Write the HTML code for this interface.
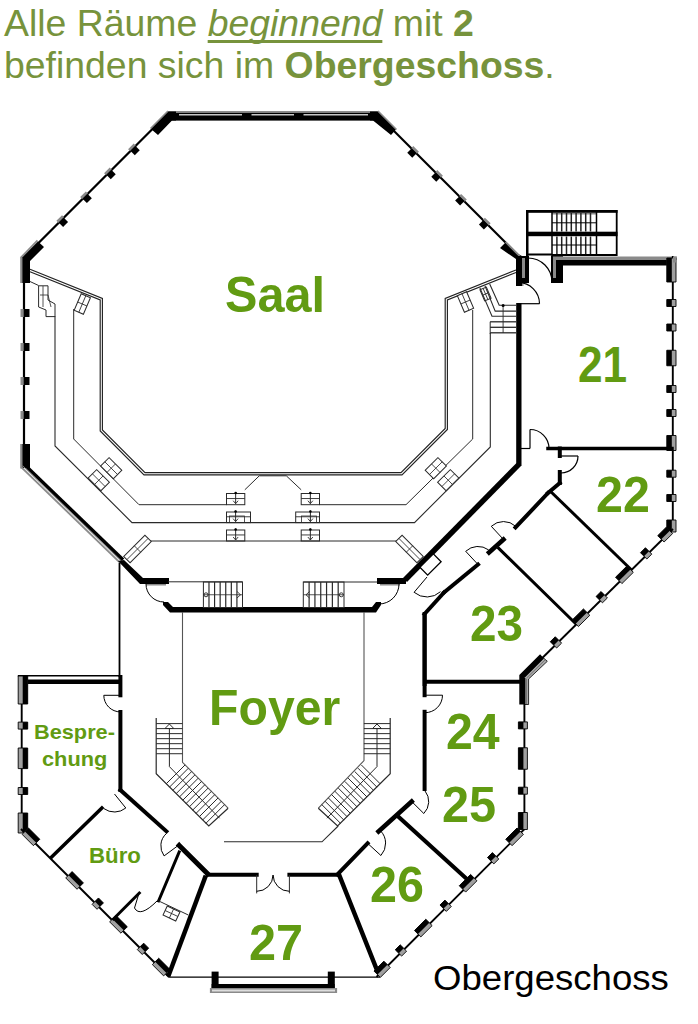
<!DOCTYPE html>
<html><head><meta charset="utf-8">
<style>
html,body{margin:0;padding:0;background:#fff;}
body{width:698px;height:1024px;overflow:hidden;position:relative;font-family:"Liberation Sans",sans-serif;}
.hd{position:absolute;left:4px;color:#77933c;font-size:37.4px;white-space:nowrap;line-height:40px;}
.lb{position:absolute;color:#619b12;font-weight:bold;white-space:nowrap;line-height:1;font-size:50px;transform-origin:0 0;}
.sm{position:absolute;color:#619b12;font-weight:bold;white-space:nowrap;line-height:1;font-size:21px;transform-origin:0 0;}
svg{position:absolute;left:0;top:0;}
</style></head><body>
<svg width="698" height="1024" viewBox="0 0 698 1024">
<rect x="168" y="111" width="210" height="1.8" fill="#8a8a8a" stroke="none" stroke-width="0" />
<rect x="170" y="112.8" width="206" height="7.8" fill="#000" stroke="none" stroke-width="0" />
<rect x="179" y="114" width="63" height="1.5" fill="#c8c8c8" stroke="none" stroke-width="0" />
<rect x="251.5" y="114" width="42.5" height="1.5" fill="#c8c8c8" stroke="none" stroke-width="0" />
<rect x="303.5" y="114" width="64.5" height="1.5" fill="#c8c8c8" stroke="none" stroke-width="0" />
<line x1="168.5" y1="113" x2="22.5" y2="259" stroke="#000" stroke-width="2.2" />
<polygon points="133.73,143.53 128.07,149.19 130.19,151.31 135.85,145.65" fill="#8a8a8a" stroke="none" stroke-width="0"/>
<polygon points="135.28,145.79 130.33,150.74 134.79,155.2 139.74,150.25" fill="#000" stroke="none" stroke-width="0"/>
<polygon points="109.71,167.55 104.06,173.2 106.18,175.32 111.83,169.67" fill="#8a8a8a" stroke="none" stroke-width="0"/>
<polygon points="111.27,169.81 106.32,174.76 110.77,179.21 115.72,174.26" fill="#000" stroke="none" stroke-width="0"/>
<polygon points="85.84,191.42 80.18,197.07 82.31,199.19 87.96,193.54" fill="#8a8a8a" stroke="none" stroke-width="0"/>
<polygon points="87.4,193.68 82.45,198.63 86.9,203.08 91.85,198.13" fill="#000" stroke="none" stroke-width="0"/>
<polygon points="62.04,215.21 56.39,220.87 58.51,222.99 64.16,217.34" fill="#8a8a8a" stroke="none" stroke-width="0"/>
<polygon points="63.6,217.48 58.65,222.43 63.1,226.88 68.05,221.93" fill="#000" stroke="none" stroke-width="0"/>
<polygon points="151,129 168,111.5 176,111.5 176,120.5 172,120.5 158,135" fill="#000" stroke="none" stroke-width="0"/>
<line x1="150.5" y1="128.5" x2="168" y2="111" stroke="#8a8a8a" stroke-width="1.6" />
<polygon points="21.5,258 38,241.5 44,247 30,261 30,283 22,283" fill="#000" stroke="none" stroke-width="0"/>
<line x1="20.5" y1="258" x2="37.5" y2="240.5" stroke="#8a8a8a" stroke-width="1.8" />
<rect x="20.2" y="258" width="2.3" height="25" fill="#8a8a8a" stroke="none" stroke-width="0" />
<line x1="24" y1="258" x2="24" y2="468" stroke="#000" stroke-width="2.2" />
<polygon points="20.5,309.0 20.5,317.0 24.0,317.0 24.0,309.0" fill="#8a8a8a" stroke="none" stroke-width="0"/>
<polygon points="23.7,309.0 23.7,317.0 29.5,317.0 29.5,309.0" fill="#000" stroke="none" stroke-width="0"/>
<polygon points="20.5,343.0 20.5,351.0 24.0,351.0 24.0,343.0" fill="#8a8a8a" stroke="none" stroke-width="0"/>
<polygon points="23.7,343.0 23.7,351.0 29.5,351.0 29.5,343.0" fill="#000" stroke="none" stroke-width="0"/>
<polygon points="20.5,377.0 20.5,385.0 24.0,385.0 24.0,377.0" fill="#8a8a8a" stroke="none" stroke-width="0"/>
<polygon points="23.7,377.0 23.7,385.0 29.5,385.0 29.5,377.0" fill="#000" stroke="none" stroke-width="0"/>
<polygon points="20.5,411.0 20.5,419.0 24.0,419.0 24.0,411.0" fill="#8a8a8a" stroke="none" stroke-width="0"/>
<polygon points="23.7,411.0 23.7,419.0 29.5,419.0 29.5,411.0" fill="#000" stroke="none" stroke-width="0"/>
<rect x="22" y="444" width="8" height="24" fill="#000" stroke="none" stroke-width="0" />
<rect x="20.2" y="444" width="2.3" height="24.5" fill="#8a8a8a" stroke="none" stroke-width="0" />
<polygon points="20.5,467.8 119.5,563.5 120.82,562.13 21.82,466.43" fill="#8c8c8c" stroke="none" stroke-width="0"/>
<polygon points="22.31,465.93 121.31,561.63 121.86,561.06 22.86,465.36" fill="#8c8c8c" stroke="none" stroke-width="0"/>
<polygon points="22.86,465.36 121.86,561.06 124.23,558.61 25.23,462.91" fill="#000" stroke="none" stroke-width="0"/>
<polygon points="118,561 124,560 143,578 169,578 169,584 140,584" fill="#000" stroke="none" stroke-width="0"/>
<rect x="146" y="584" width="20" height="1.5" fill="#8a8a8a" stroke="none" stroke-width="0" />
<line x1="376" y1="113" x2="523" y2="260" stroke="#000" stroke-width="2.2" />
<polygon points="413.29,146.05 418.95,151.71 416.83,153.83 411.17,148.17" fill="#8a8a8a" stroke="none" stroke-width="0"/>
<polygon points="411.74,148.31 416.69,153.26 412.23,157.72 407.28,152.77" fill="#000" stroke="none" stroke-width="0"/>
<polygon points="437.3,170.05 442.95,175.71 440.83,177.83 435.18,172.18" fill="#8a8a8a" stroke="none" stroke-width="0"/>
<polygon points="435.74,172.32 440.69,177.27 436.24,181.72 431.29,176.77" fill="#000" stroke="none" stroke-width="0"/>
<polygon points="461.14,193.9 466.8,199.56 464.68,201.68 459.02,196.02" fill="#8a8a8a" stroke="none" stroke-width="0"/>
<polygon points="459.59,196.16 464.54,201.11 460.08,205.57 455.13,200.62" fill="#000" stroke="none" stroke-width="0"/>
<polygon points="484.95,217.71 490.61,223.37 488.49,225.49 482.83,219.83" fill="#8a8a8a" stroke="none" stroke-width="0"/>
<polygon points="483.4,219.97 488.35,224.92 483.89,229.38 478.94,224.43" fill="#000" stroke="none" stroke-width="0"/>
<polygon points="378,111.5 396,129.5 391,135 373,120.5 370,120.5 370,111.5" fill="#000" stroke="none" stroke-width="0"/>
<line x1="378" y1="111" x2="396.5" y2="129.5" stroke="#8a8a8a" stroke-width="1.6" />
<polygon points="505.5,242.5 516,253 524,257 524,283 516,283 516,259 500,248" fill="#000" stroke="none" stroke-width="0"/>
<line x1="505.5" y1="242" x2="524" y2="260.5" stroke="#8a8a8a" stroke-width="1.6" />
<rect x="516" y="258" width="6" height="28" fill="#000" stroke="none" stroke-width="0" />
<rect x="522" y="256" width="1.5" height="30" fill="#8a8a8a" stroke="none" stroke-width="0" />
<rect x="516.2" y="303" width="5.3" height="163" fill="#000" stroke="none" stroke-width="0" />
<polygon points="516.5,463 521,466 407,582 403,578" fill="#000" stroke="none" stroke-width="0"/>
<rect x="377" y="578" width="29" height="6" fill="#000" stroke="none" stroke-width="0" />
<rect x="380" y="584" width="20" height="1.5" fill="#8a8a8a" stroke="none" stroke-width="0" />
<polyline points="30,269.3 102.4,298.5 102.4,430 145,472.6 401,472.6 445.2,428.5 445.2,298.5 516,270" fill="none" stroke="#222" stroke-width="1.15" />
<polyline points="30,271.8 100.2,300 100.2,431 144,474.8 402,474.8 447.4,429.5 447.4,300 516,272.5" fill="none" stroke="#222" stroke-width="1.15" />
<polyline points="73.7,309 73.7,439 139,504.7 226.5,504.7" fill="none" stroke="#2a2a2a" stroke-width="1" />
<polyline points="244.8,489.8 259.3,475.8 286.3,475.8 301.2,489.8" fill="none" stroke="#2a2a2a" stroke-width="1" />
<polyline points="319.5,504.7 406,504.7 472.7,439 472.7,310" fill="none" stroke="#2a2a2a" stroke-width="1" />
<polyline points="55,316 55,446 132,522.6 414.5,522.6 490.3,447 490.3,333" fill="none" stroke="#2a2a2a" stroke-width="1.1" />
<line x1="150" y1="541" x2="397" y2="541" stroke="#2a2a2a" stroke-width="1" />
<rect x="226.5" y="493.5" width="18.30000000000001" height="11.199999999999989" fill="none" stroke="#2a2a2a" stroke-width="1" />
<line x1="235.65" y1="492.0" x2="235.65" y2="503.7" stroke="#2a2a2a" stroke-width="1" />
<circle cx="235.65" cy="493.0" r="1.3" fill="#000"/>
<polyline points="233.15,500.7 235.65,503.7 238.15,500.7" fill="none" stroke="#2a2a2a" stroke-width="0.9" />
<line x1="226.5" y1="498.54" x2="244.8" y2="498.54" stroke="#2a2a2a" stroke-width="0.9" />
<rect x="226.5" y="530" width="18.30000000000001" height="11" fill="none" stroke="#2a2a2a" stroke-width="1" />
<line x1="235.65" y1="528.5" x2="235.65" y2="540" stroke="#2a2a2a" stroke-width="1" />
<circle cx="235.65" cy="529.5" r="1.3" fill="#000"/>
<polyline points="233.15,537 235.65,540 238.15,537" fill="none" stroke="#2a2a2a" stroke-width="0.9" />
<line x1="226.5" y1="534.95" x2="244.8" y2="534.95" stroke="#2a2a2a" stroke-width="0.9" />
<rect x="301.2" y="493.5" width="18.30000000000001" height="11.199999999999989" fill="none" stroke="#2a2a2a" stroke-width="1" />
<line x1="310.35" y1="492.0" x2="310.35" y2="503.7" stroke="#2a2a2a" stroke-width="1" />
<circle cx="310.35" cy="493.0" r="1.3" fill="#000"/>
<polyline points="307.85,500.7 310.35,503.7 312.85,500.7" fill="none" stroke="#2a2a2a" stroke-width="0.9" />
<line x1="301.2" y1="498.54" x2="319.5" y2="498.54" stroke="#2a2a2a" stroke-width="0.9" />
<rect x="301.2" y="530" width="18.30000000000001" height="11" fill="none" stroke="#2a2a2a" stroke-width="1" />
<line x1="310.35" y1="528.5" x2="310.35" y2="540" stroke="#2a2a2a" stroke-width="1" />
<circle cx="310.35" cy="529.5" r="1.3" fill="#000"/>
<polyline points="307.85,537 310.35,540 312.85,537" fill="none" stroke="#2a2a2a" stroke-width="0.9" />
<line x1="301.2" y1="534.95" x2="319.5" y2="534.95" stroke="#2a2a2a" stroke-width="0.9" />
<rect x="226.5" y="512" width="24.0" height="10.600000000000023" fill="none" stroke="#2a2a2a" stroke-width="1" />
<line x1="235.6" y1="510.5" x2="235.6" y2="521.6" stroke="#2a2a2a" stroke-width="1" />
<circle cx="235.6" cy="511.5" r="1.3" fill="#000"/>
<polyline points="233.1,518.6 235.6,521.6 238.1,518.6" fill="none" stroke="#2a2a2a" stroke-width="0.9" />
<line x1="226.5" y1="516.77" x2="250.5" y2="516.77" stroke="#2a2a2a" stroke-width="0.9" />
<rect x="229.5" y="516" width="15" height="6.6" fill="none" stroke="#2a2a2a" stroke-width="0.8" />
<rect x="295.7" y="512" width="23.80000000000001" height="10.600000000000023" fill="none" stroke="#2a2a2a" stroke-width="1" />
<line x1="310.4" y1="510.5" x2="310.4" y2="521.6" stroke="#2a2a2a" stroke-width="1" />
<circle cx="310.4" cy="511.5" r="1.3" fill="#000"/>
<polyline points="307.9,518.6 310.4,521.6 312.9,518.6" fill="none" stroke="#2a2a2a" stroke-width="0.9" />
<line x1="295.7" y1="516.77" x2="319.5" y2="516.77" stroke="#2a2a2a" stroke-width="0.9" />
<rect x="301.5" y="516" width="15" height="6.6" fill="none" stroke="#2a2a2a" stroke-width="0.8" />
<g transform="rotate(-45 435.8 468.2)"><rect x="426.8" y="462.2" width="18" height="12" fill="#fff" stroke="#2a2a2a" stroke-width="1"/><line x1="426.8" y1="468.2" x2="444.8" y2="468.2" stroke="#2a2a2a" stroke-width="0.8"/><line x1="435.8" y1="462.2" x2="435.8" y2="474.2" stroke="#2a2a2a" stroke-width="0.8"/></g>
<g transform="rotate(-45 448.2 480.2)"><rect x="439.2" y="474.2" width="18" height="12" fill="#fff" stroke="#2a2a2a" stroke-width="1"/><line x1="439.2" y1="480.2" x2="457.2" y2="480.2" stroke="#2a2a2a" stroke-width="0.8"/><line x1="448.2" y1="474.2" x2="448.2" y2="486.2" stroke="#2a2a2a" stroke-width="0.8"/></g>
<g transform="rotate(45 111.2 468.2)"><rect x="102.2" y="462.2" width="18" height="12" fill="#fff" stroke="#2a2a2a" stroke-width="1"/><line x1="102.2" y1="468.2" x2="120.2" y2="468.2" stroke="#2a2a2a" stroke-width="0.8"/><line x1="111.2" y1="462.2" x2="111.2" y2="474.2" stroke="#2a2a2a" stroke-width="0.8"/></g>
<g transform="rotate(45 98.8 480.2)"><rect x="89.8" y="474.2" width="18" height="12" fill="#fff" stroke="#2a2a2a" stroke-width="1"/><line x1="89.8" y1="480.2" x2="107.8" y2="480.2" stroke="#2a2a2a" stroke-width="0.8"/><line x1="98.8" y1="474.2" x2="98.8" y2="486.2" stroke="#2a2a2a" stroke-width="0.8"/></g>
<g transform="rotate(45 409.5 549)"><rect x="394.5" y="544.5" width="30" height="9" fill="#fff" stroke="#2a2a2a" stroke-width="1"/><line x1="394.5" y1="549" x2="424.5" y2="549" stroke="#2a2a2a" stroke-width="0.8"/><line x1="409.5" y1="544.5" x2="409.5" y2="553.5" stroke="#2a2a2a" stroke-width="0.8"/></g>
<g transform="rotate(-45 137.5 549)"><rect x="122.5" y="544.5" width="30" height="9" fill="#fff" stroke="#2a2a2a" stroke-width="1"/><line x1="122.5" y1="549" x2="152.5" y2="549" stroke="#2a2a2a" stroke-width="0.8"/><line x1="137.5" y1="544.5" x2="137.5" y2="553.5" stroke="#2a2a2a" stroke-width="0.8"/></g>
<polyline points="38.6,285.8 48,285.8 48,300 55,304 55,316.6 46,316.6 46,310 38.6,307 38.6,285.8" fill="none" stroke="#2a2a2a" stroke-width="1" />
<line x1="43" y1="286" x2="43" y2="307" stroke="#2a2a2a" stroke-width="0.8" />
<polyline points="40,295 48,295 51,307" fill="none" stroke="#2a2a2a" stroke-width="0.8" />
<line x1="30" y1="281.5" x2="38.6" y2="285.5" stroke="#2a2a2a" stroke-width="1" />
<g transform="rotate(23 82.3 304)"><rect x="77.3" y="295.0" width="10" height="18" fill="#fff" stroke="#2a2a2a" stroke-width="1"/><line x1="77.3" y1="304" x2="87.3" y2="304" stroke="#2a2a2a" stroke-width="0.8"/><line x1="82.3" y1="295.0" x2="82.3" y2="313.0" stroke="#2a2a2a" stroke-width="0.8"/></g>
<g transform="rotate(-23 465.5 302)"><rect x="460.5" y="293.0" width="10" height="18" fill="#fff" stroke="#2a2a2a" stroke-width="1"/><line x1="460.5" y1="302" x2="470.5" y2="302" stroke="#2a2a2a" stroke-width="0.8"/><line x1="465.5" y1="293.0" x2="465.5" y2="311.0" stroke="#2a2a2a" stroke-width="0.8"/></g>
<g transform="rotate(-23 485.5 294)"><rect x="482.0" y="288.0" width="7" height="12" fill="#fff" stroke="#2a2a2a" stroke-width="1"/><line x1="482.0" y1="294" x2="489.0" y2="294" stroke="#2a2a2a" stroke-width="0.8"/><line x1="485.5" y1="288.0" x2="485.5" y2="300.0" stroke="#2a2a2a" stroke-width="0.8"/></g>
<polyline points="479.9,287.9 492,316.2 516,316.2" fill="none" stroke="#2a2a2a" stroke-width="1.1" />
<polyline points="485,285.9 495.2,311.1 516,311.1" fill="none" stroke="#2a2a2a" stroke-width="1.1" />
<polyline points="489.7,284 499.2,305.2 516,305.2" fill="none" stroke="#2a2a2a" stroke-width="1.1" />
<line x1="490.1" y1="321.8" x2="516" y2="321.8" stroke="#2a2a2a" stroke-width="1.3" />
<line x1="490.1" y1="327.3" x2="516" y2="327.3" stroke="#2a2a2a" stroke-width="1.3" />
<line x1="490.1" y1="332.8" x2="516" y2="332.8" stroke="#2a2a2a" stroke-width="1.3" />
<line x1="503.1" y1="305" x2="503.1" y2="333" stroke="#2a2a2a" stroke-width="0.9" />
<circle cx="503.1" cy="305.5" r="1.5" fill="#000"/>
<line x1="490.2" y1="321.8" x2="490.2" y2="334" stroke="#2a2a2a" stroke-width="1" />
<rect x="526" y="210" width="91.5" height="2.8" fill="#000" stroke="none" stroke-width="0" />
<rect x="552" y="213" width="44" height="1.5" fill="#8a8a8a" stroke="none" stroke-width="0" />
<rect x="526" y="231.7" width="91.5" height="4.5" fill="#000" stroke="none" stroke-width="0" />
<rect x="526" y="253.5" width="26" height="2" fill="#000" stroke="none" stroke-width="0" />
<rect x="526" y="210" width="2.5" height="46" fill="#000" stroke="none" stroke-width="0" />
<rect x="615.8" y="210" width="1.8" height="46" fill="#000" stroke="none" stroke-width="0" />
<line x1="552" y1="212" x2="552" y2="256" stroke="#000" stroke-width="1.5" />
<line x1="596.5" y1="212" x2="596.5" y2="256" stroke="#000" stroke-width="1.5" />
<line x1="556.9" y1="213" x2="556.9" y2="231.5" stroke="#222" stroke-width="1.5" />
<line x1="561.6999999999999" y1="213" x2="561.6999999999999" y2="231.5" stroke="#222" stroke-width="1.5" />
<line x1="566.5" y1="213" x2="566.5" y2="231.5" stroke="#222" stroke-width="1.5" />
<line x1="571.3" y1="213" x2="571.3" y2="231.5" stroke="#222" stroke-width="1.5" />
<line x1="576.1" y1="213" x2="576.1" y2="231.5" stroke="#222" stroke-width="1.5" />
<line x1="580.9" y1="213" x2="580.9" y2="231.5" stroke="#222" stroke-width="1.5" />
<line x1="585.6999999999999" y1="213" x2="585.6999999999999" y2="231.5" stroke="#222" stroke-width="1.5" />
<line x1="590.5" y1="213" x2="590.5" y2="231.5" stroke="#222" stroke-width="1.5" />
<line x1="556.9" y1="236.5" x2="556.9" y2="255" stroke="#222" stroke-width="1.5" />
<line x1="561.6999999999999" y1="236.5" x2="561.6999999999999" y2="255" stroke="#222" stroke-width="1.5" />
<line x1="566.5" y1="236.5" x2="566.5" y2="255" stroke="#222" stroke-width="1.5" />
<line x1="571.3" y1="236.5" x2="571.3" y2="255" stroke="#222" stroke-width="1.5" />
<line x1="576.1" y1="236.5" x2="576.1" y2="255" stroke="#222" stroke-width="1.5" />
<line x1="580.9" y1="236.5" x2="580.9" y2="255" stroke="#222" stroke-width="1.5" />
<line x1="585.6999999999999" y1="236.5" x2="585.6999999999999" y2="255" stroke="#222" stroke-width="1.5" />
<line x1="590.5" y1="236.5" x2="590.5" y2="255" stroke="#222" stroke-width="1.5" />
<line x1="552" y1="222.8" x2="596.5" y2="222.8" stroke="#000" stroke-width="1" />
<line x1="552" y1="245" x2="596.5" y2="245" stroke="#000" stroke-width="1" />
<rect x="552" y="254" width="65" height="2" fill="#000" stroke="none" stroke-width="0" />
<rect x="516" y="256" width="13" height="27" fill="#000" stroke="none" stroke-width="0" />
<rect x="522" y="258" width="3" height="20" fill="#8a8a8a" stroke="none" stroke-width="0" />
<rect x="551" y="256" width="12" height="27" fill="#000" stroke="none" stroke-width="0" />
<rect x="553" y="258" width="3" height="20" fill="#8a8a8a" stroke="none" stroke-width="0" />
<rect x="553" y="256.5" width="124" height="3.5" fill="#8a8a8a" stroke="none" stroke-width="0" />
<rect x="556" y="260" width="117" height="5.5" fill="#000" stroke="none" stroke-width="0" />
<path d="M528.0,258.0 A24,24 0 0 1 552.0,282.0" fill="none" stroke="#000" stroke-width="1.2"/>
<line x1="518.5" y1="303.7" x2="539.5" y2="303.7" stroke="#000" stroke-width="1.2" />
<path d="M539.5,303.7 A21,21 0 0 0 518.5,282.7" fill="none" stroke="#000" stroke-width="1.2"/>
<line x1="672.8" y1="256" x2="672.8" y2="529" stroke="#000" stroke-width="1.9" />
<polygon points="676.0,299.5 676.0,306.5 666.8,306.5 666.8,299.5" fill="#a0a0a0" stroke="#000" stroke-width="0.9"/>
<polygon points="671.8,299.5 671.8,306.5 666.8,306.5 666.8,299.5" fill="#000" stroke="none" stroke-width="0"/>
<polygon points="676.0,324.0 676.0,331.0 666.8,331.0 666.8,324.0" fill="#a0a0a0" stroke="#000" stroke-width="0.9"/>
<polygon points="671.8,324.0 671.8,331.0 666.8,331.0 666.8,324.0" fill="#000" stroke="none" stroke-width="0"/>
<polygon points="676.0,385.5 676.0,392.5 666.8,392.5 666.8,385.5" fill="#a0a0a0" stroke="#000" stroke-width="0.9"/>
<polygon points="671.8,385.5 671.8,392.5 666.8,392.5 666.8,385.5" fill="#000" stroke="none" stroke-width="0"/>
<polygon points="676.0,409.5 676.0,416.5 666.8,416.5 666.8,409.5" fill="#a0a0a0" stroke="#000" stroke-width="0.9"/>
<polygon points="671.8,409.5 671.8,416.5 666.8,416.5 666.8,409.5" fill="#000" stroke="none" stroke-width="0"/>
<polygon points="676.0,470.2 676.0,477.2 666.8,477.2 666.8,470.2" fill="#a0a0a0" stroke="#000" stroke-width="0.9"/>
<polygon points="671.8,470.2 671.8,477.2 666.8,477.2 666.8,470.2" fill="#000" stroke="none" stroke-width="0"/>
<polygon points="676.0,494.5 676.0,501.5 666.8,501.5 666.8,494.5" fill="#a0a0a0" stroke="#000" stroke-width="0.9"/>
<polygon points="671.8,494.5 671.8,501.5 666.8,501.5 666.8,494.5" fill="#000" stroke="none" stroke-width="0"/>
<polygon points="676.0,350.25 676.0,365.75 666.8,365.75 666.8,350.25" fill="#a0a0a0" stroke="#000" stroke-width="0.9"/>
<polygon points="671.8,350.25 671.8,365.75 666.8,365.75 666.8,350.25" fill="#000" stroke="none" stroke-width="0"/>
<polygon points="676.0,435.5 676.0,450.5 666.8,450.5 666.8,435.5" fill="#a0a0a0" stroke="#000" stroke-width="0.9"/>
<polygon points="671.8,435.5 671.8,450.5 666.8,450.5 666.8,435.5" fill="#000" stroke="none" stroke-width="0"/>
<polygon points="676.0,258.0 676.0,282.0 666.8,282.0 666.8,258.0" fill="#a0a0a0" stroke="#000" stroke-width="0.9"/>
<polygon points="671.8,258.0 671.8,282.0 666.8,282.0 666.8,258.0" fill="#000" stroke="none" stroke-width="0"/>
<polygon points="676.0,520.0 676.0,532.0 666.8,532.0 666.8,520.0" fill="#a0a0a0" stroke="#000" stroke-width="0.9"/>
<polygon points="671.8,520.0 671.8,532.0 666.8,532.0 666.8,520.0" fill="#000" stroke="none" stroke-width="0"/>
<rect x="673" y="256.5" width="3.5" height="6" fill="#8a8a8a" stroke="none" stroke-width="0" />
<line x1="548" y1="448.5" x2="672" y2="448.5" stroke="#000" stroke-width="3.5" stroke-linecap="square"/>
<line x1="520" y1="448.5" x2="530" y2="448.5" stroke="#000" stroke-width="1.2" />
<line x1="530" y1="448.5" x2="530.0" y2="429.5" stroke="#000" stroke-width="1.2" />
<path d="M530.0,429.5 A19,19 0 0 1 549.0,448.5" fill="none" stroke="#000" stroke-width="1.2"/>
<line x1="559.8" y1="448.5" x2="559.8" y2="456" stroke="#000" stroke-width="4" stroke-linecap="square"/>
<line x1="559.8" y1="472" x2="559.8" y2="483" stroke="#000" stroke-width="4" stroke-linecap="square"/>
<line x1="561" y1="456" x2="578.0" y2="456.0" stroke="#000" stroke-width="1.2" />
<path d="M578.0,456.0 A17,17 0 0 1 561.0,473.0" fill="none" stroke="#000" stroke-width="1.2"/>
<line x1="559.8" y1="483" x2="548" y2="493" stroke="#000" stroke-width="4" stroke-linecap="square"/>
<line x1="548" y1="493" x2="515.5" y2="527.5" stroke="#000" stroke-width="4" stroke-linecap="square"/>
<line x1="503.5" y1="539.5" x2="489" y2="552.5" stroke="#000" stroke-width="4.5" stroke-linecap="square"/>
<line x1="478" y1="564.5" x2="444" y2="592.5" stroke="#000" stroke-width="4" stroke-linecap="square"/>
<line x1="444" y1="592.5" x2="424.5" y2="614" stroke="#000" stroke-width="4" stroke-linecap="square"/>
<line x1="424.6" y1="614" x2="424.6" y2="684" stroke="#000" stroke-width="4" stroke-linecap="square"/>
<line x1="425" y1="681.8" x2="522" y2="681.8" stroke="#000" stroke-width="4" stroke-linecap="square"/>
<line x1="503.5" y1="539.5" x2="491.3" y2="526.3" stroke="#000" stroke-width="1" />
<path d="M491.3,526.3 A18,18 0 0 1 515.7,526.3" fill="none" stroke="#000" stroke-width="1"/>
<line x1="478" y1="564.5" x2="465.7" y2="551.3" stroke="#000" stroke-width="1" />
<path d="M465.7,551.3 A18,18 0 0 1 488.6,549.9" fill="none" stroke="#000" stroke-width="1"/>
<line x1="427" y1="577" x2="414.1" y2="592.3" stroke="#000" stroke-width="1" />
<path d="M414.1,592.3 A20,20 0 0 0 440.5,591.7" fill="none" stroke="#000" stroke-width="1"/>
<line x1="551.7" y1="492.5" x2="631" y2="569.5" stroke="#000" stroke-width="3" stroke-linecap="square"/>
<line x1="498.8" y1="548.4" x2="575.5" y2="623.5" stroke="#000" stroke-width="3" stroke-linecap="square"/>
<line x1="673" y1="529" x2="523" y2="677" stroke="#000" stroke-width="1.9" />
<polygon points="651.81,554.12 646.83,559.04 640.47,552.67 645.45,547.76" fill="#a0a0a0" stroke="#000" stroke-width="0.9"/>
<polygon points="648.98,551.29 644.0,556.21 640.47,552.67 645.45,547.76" fill="#000" stroke="none" stroke-width="0"/>
<polygon points="607.41,597.93 602.43,602.84 596.07,596.48 601.05,591.56" fill="#a0a0a0" stroke="#000" stroke-width="0.9"/>
<polygon points="604.58,595.1 599.6,600.02 596.07,596.48 601.05,591.56" fill="#000" stroke="none" stroke-width="0"/>
<polygon points="561.61,643.12 556.63,648.03 550.27,641.67 555.25,636.75" fill="#a0a0a0" stroke="#000" stroke-width="0.9"/>
<polygon points="558.78,640.29 553.8,645.2 550.27,641.67 555.25,636.75" fill="#000" stroke="none" stroke-width="0"/>
<polygon points="633.32,572.37 621.93,583.61 615.56,577.24 626.95,566.01" fill="#a0a0a0" stroke="#000" stroke-width="0.9"/>
<polygon points="630.49,569.54 619.1,580.78 615.56,577.24 626.95,566.01" fill="#000" stroke="none" stroke-width="0"/>
<polygon points="589.82,615.29 578.43,626.53 572.06,620.16 583.45,608.93" fill="#a0a0a0" stroke="#000" stroke-width="0.9"/>
<polygon points="586.99,612.46 575.6,623.7 572.06,620.16 583.45,608.93" fill="#000" stroke="none" stroke-width="0"/>
<polygon points="672.64,533.57 664.1,542.0 657.74,535.63 666.28,527.2" fill="#a0a0a0" stroke="#000" stroke-width="0.9"/>
<polygon points="669.81,530.74 661.27,539.17 657.74,535.63 666.28,527.2" fill="#000" stroke="none" stroke-width="0"/>
<polygon points="540.1,654.3 519.3,675.1 519.3,704.5 524.5,704.5 524.5,677.5 543.8,658.2" fill="#000" stroke="none" stroke-width="0"/>
<polygon points="543.8,658.2 524.5,677.5 524.5,704.5 528.6,704.5 528.6,679 547.3,661.3" fill="#a8a8a8" stroke="#000" stroke-width="0.8"/>
<line x1="526.5" y1="679" x2="526.5" y2="704" stroke="#555" stroke-width="0.6" />
<line x1="526.5" y1="678.2" x2="545.5" y2="659.5" stroke="#555" stroke-width="0.6" />
<rect x="421" y="559" width="19" height="11" fill="#fff" stroke="#000" stroke-width="1.3" transform="rotate(-45 430.5 564.5)"/>
<line x1="168" y1="581.8" x2="242.5" y2="581.8" stroke="#2a2a2a" stroke-width="1" />
<line x1="303.3" y1="582" x2="377" y2="582" stroke="#2a2a2a" stroke-width="1" />
<polygon points="163,602 168,602 173,607 372,607 376,602 381,602 381,605 376,612.5 170,612.5 163,605" fill="#000" stroke="none" stroke-width="0"/>
<rect x="203.4" y="582" width="39.099999999999994" height="25.5" fill="none" stroke="#2a2a2a" stroke-width="1" />
<line x1="208.9857142857143" y1="582" x2="208.9857142857143" y2="607.5" stroke="#2a2a2a" stroke-width="1.2" />
<line x1="214.57142857142858" y1="582" x2="214.57142857142858" y2="607.5" stroke="#2a2a2a" stroke-width="1.2" />
<line x1="220.15714285714287" y1="582" x2="220.15714285714287" y2="607.5" stroke="#2a2a2a" stroke-width="1.2" />
<line x1="225.74285714285713" y1="582" x2="225.74285714285713" y2="607.5" stroke="#2a2a2a" stroke-width="1.2" />
<line x1="231.32857142857142" y1="582" x2="231.32857142857142" y2="607.5" stroke="#2a2a2a" stroke-width="1.2" />
<line x1="236.9142857142857" y1="582" x2="236.9142857142857" y2="607.5" stroke="#2a2a2a" stroke-width="1.2" />
<line x1="203.4" y1="594.75" x2="242.5" y2="594.75" stroke="#2a2a2a" stroke-width="0.8" />
<rect x="303.3" y="582" width="40.69999999999999" height="25.5" fill="none" stroke="#2a2a2a" stroke-width="1" />
<line x1="309.1142857142857" y1="582" x2="309.1142857142857" y2="607.5" stroke="#2a2a2a" stroke-width="1.2" />
<line x1="314.92857142857144" y1="582" x2="314.92857142857144" y2="607.5" stroke="#2a2a2a" stroke-width="1.2" />
<line x1="320.74285714285713" y1="582" x2="320.74285714285713" y2="607.5" stroke="#2a2a2a" stroke-width="1.2" />
<line x1="326.5571428571429" y1="582" x2="326.5571428571429" y2="607.5" stroke="#2a2a2a" stroke-width="1.2" />
<line x1="332.37142857142857" y1="582" x2="332.37142857142857" y2="607.5" stroke="#2a2a2a" stroke-width="1.2" />
<line x1="338.1857142857143" y1="582" x2="338.1857142857143" y2="607.5" stroke="#2a2a2a" stroke-width="1.2" />
<line x1="303.3" y1="594.75" x2="344" y2="594.75" stroke="#2a2a2a" stroke-width="0.8" />
<circle cx="206" cy="594.8" r="2" fill="none" stroke="#222" stroke-width="0.9"/>
<polyline points="237,591.5 240.5,594.8 237,598" fill="none" stroke="#2a2a2a" stroke-width="0.9" />
<circle cx="341.3" cy="594.8" r="2" fill="none" stroke="#222" stroke-width="0.9"/>
<polyline points="309.5,591.5 306,594.8 309.5,598" fill="none" stroke="#2a2a2a" stroke-width="0.9" />
<path d="M146.0,584.0 A18,18 0 0 0 164.0,602.0" fill="none" stroke="#000" stroke-width="1"/>
<path d="M399.0,584.0 A20,20 0 0 1 379.0,604.0" fill="none" stroke="#000" stroke-width="1"/>
<polyline points="182.5,612 182.5,762.3 228.1,808.2" fill="none" stroke="#555" stroke-width="1.1" />
<polyline points="364,612 364,760.6 318.4,808.2" fill="none" stroke="#555" stroke-width="1.1" />
<polyline points="156.2,717.9 156.2,773.8 208.8,826 228.1,808.2" fill="none" stroke="#2a2a2a" stroke-width="1.2" />
<polyline points="169.4,725 169.4,766.6 219.5,818.2" fill="none" stroke="#2a2a2a" stroke-width="1" />
<polygon points="165,728.5 173.8,728.5 169.4,724" fill="#fff" stroke="#2a2a2a" stroke-width="1"/>
<line x1="156.2" y1="723.6" x2="182.5" y2="723.6" stroke="#2a2a2a" stroke-width="1" />
<line x1="156.2" y1="728.62" x2="182.5" y2="728.62" stroke="#2a2a2a" stroke-width="1" />
<line x1="156.2" y1="733.64" x2="182.5" y2="733.64" stroke="#2a2a2a" stroke-width="1" />
<line x1="156.2" y1="738.66" x2="182.5" y2="738.66" stroke="#2a2a2a" stroke-width="1" />
<line x1="156.2" y1="743.6800000000001" x2="182.5" y2="743.6800000000001" stroke="#2a2a2a" stroke-width="1" />
<line x1="156.2" y1="748.7" x2="182.5" y2="748.7" stroke="#2a2a2a" stroke-width="1" />
<line x1="156.2" y1="753.72" x2="182.5" y2="753.72" stroke="#2a2a2a" stroke-width="1" />
<line x1="166.2" y1="783.8" x2="185.1" y2="764.9" stroke="#2a2a2a" stroke-width="1" />
<line x1="169.5" y1="787.1" x2="188.4" y2="768.2" stroke="#2a2a2a" stroke-width="1" />
<line x1="172.8" y1="790.4" x2="191.7" y2="771.5" stroke="#2a2a2a" stroke-width="1" />
<line x1="176.1" y1="793.7" x2="195.0" y2="774.8" stroke="#2a2a2a" stroke-width="1" />
<line x1="179.4" y1="797.0" x2="198.3" y2="778.1" stroke="#2a2a2a" stroke-width="1" />
<line x1="182.7" y1="800.3" x2="201.6" y2="781.4" stroke="#2a2a2a" stroke-width="1" />
<line x1="186.0" y1="803.6" x2="204.9" y2="784.7" stroke="#2a2a2a" stroke-width="1" />
<line x1="189.3" y1="806.9" x2="208.2" y2="788.0" stroke="#2a2a2a" stroke-width="1" />
<line x1="192.6" y1="810.2" x2="211.5" y2="791.3" stroke="#2a2a2a" stroke-width="1" />
<line x1="195.9" y1="813.5" x2="214.8" y2="794.6" stroke="#2a2a2a" stroke-width="1" />
<line x1="199.2" y1="816.8" x2="218.1" y2="797.9" stroke="#2a2a2a" stroke-width="1" />
<line x1="202.5" y1="820.1" x2="221.4" y2="801.2" stroke="#2a2a2a" stroke-width="1" />
<line x1="205.8" y1="823.4" x2="224.7" y2="804.5" stroke="#2a2a2a" stroke-width="1" />
<polyline points="390.2,717.9 390.2,773.8 337.59999999999997,826 318.29999999999995,808.2" fill="none" stroke="#2a2a2a" stroke-width="1.2" />
<polyline points="377.0,725 377.0,766.6 326.9,818.2" fill="none" stroke="#2a2a2a" stroke-width="1" />
<polygon points="381.4,728.5 372.59999999999997,728.5 377.0,724" fill="#fff" stroke="#2a2a2a" stroke-width="1"/>
<line x1="390.2" y1="723.6" x2="363.9" y2="723.6" stroke="#2a2a2a" stroke-width="1" />
<line x1="390.2" y1="728.62" x2="363.9" y2="728.62" stroke="#2a2a2a" stroke-width="1" />
<line x1="390.2" y1="733.64" x2="363.9" y2="733.64" stroke="#2a2a2a" stroke-width="1" />
<line x1="390.2" y1="738.66" x2="363.9" y2="738.66" stroke="#2a2a2a" stroke-width="1" />
<line x1="390.2" y1="743.6800000000001" x2="363.9" y2="743.6800000000001" stroke="#2a2a2a" stroke-width="1" />
<line x1="390.2" y1="748.7" x2="363.9" y2="748.7" stroke="#2a2a2a" stroke-width="1" />
<line x1="390.2" y1="753.72" x2="363.9" y2="753.72" stroke="#2a2a2a" stroke-width="1" />
<line x1="380.2" y1="783.8" x2="361.3" y2="764.9" stroke="#2a2a2a" stroke-width="1" />
<line x1="376.9" y1="787.1" x2="358.0" y2="768.2" stroke="#2a2a2a" stroke-width="1" />
<line x1="373.6" y1="790.4" x2="354.7" y2="771.5" stroke="#2a2a2a" stroke-width="1" />
<line x1="370.3" y1="793.7" x2="351.4" y2="774.8" stroke="#2a2a2a" stroke-width="1" />
<line x1="367.0" y1="797.0" x2="348.1" y2="778.1" stroke="#2a2a2a" stroke-width="1" />
<line x1="363.7" y1="800.3" x2="344.8" y2="781.4" stroke="#2a2a2a" stroke-width="1" />
<line x1="360.4" y1="803.6" x2="341.5" y2="784.7" stroke="#2a2a2a" stroke-width="1" />
<line x1="357.1" y1="806.9" x2="338.2" y2="788.0" stroke="#2a2a2a" stroke-width="1" />
<line x1="353.8" y1="810.2" x2="334.9" y2="791.3" stroke="#2a2a2a" stroke-width="1" />
<line x1="350.5" y1="813.5" x2="331.6" y2="794.6" stroke="#2a2a2a" stroke-width="1" />
<line x1="347.2" y1="816.8" x2="328.3" y2="797.9" stroke="#2a2a2a" stroke-width="1" />
<line x1="343.9" y1="820.1" x2="325.0" y2="801.2" stroke="#2a2a2a" stroke-width="1" />
<line x1="340.6" y1="823.4" x2="321.7" y2="804.5" stroke="#2a2a2a" stroke-width="1" />
<polyline points="224,841.8 322,841.8 338.2,826" fill="none" stroke="#2a2a2a" stroke-width="1.1" />
<line x1="120.4" y1="712" x2="120.4" y2="790" stroke="#000" stroke-width="4" stroke-linecap="square"/>
<line x1="120.4" y1="677" x2="120.4" y2="695.3" stroke="#000" stroke-width="4" stroke-linecap="square"/>
<line x1="119.5" y1="563" x2="119.5" y2="677" stroke="#000" stroke-width="1.8" />
<line x1="120.4" y1="790" x2="166.4" y2="831.3" stroke="#000" stroke-width="4" stroke-linecap="square"/>
<line x1="179.2" y1="845.4" x2="207.6" y2="873.8" stroke="#000" stroke-width="5" stroke-linecap="square"/>
<line x1="207.6" y1="874.8" x2="256.7" y2="874.8" stroke="#000" stroke-width="4" stroke-linecap="square"/>
<line x1="289.4" y1="874.8" x2="337.5" y2="874.8" stroke="#000" stroke-width="4" stroke-linecap="square"/>
<line x1="337.5" y1="874.5" x2="367.6" y2="843.3" stroke="#000" stroke-width="4" stroke-linecap="square"/>
<line x1="378.5" y1="831.5" x2="411.7" y2="801.5" stroke="#000" stroke-width="4.5" stroke-linecap="square"/>
<line x1="424.6" y1="616" x2="424.6" y2="695.2" stroke="#000" stroke-width="4" stroke-linecap="square"/>
<line x1="424.6" y1="711.8" x2="424.6" y2="789" stroke="#000" stroke-width="4" stroke-linecap="square"/>
<line x1="425" y1="695.2" x2="442.5" y2="695.2" stroke="#000" stroke-width="1" />
<path d="M442.5,695.2 A17.5,17.5 0 0 1 425.0,712.7" fill="none" stroke="#000" stroke-width="1"/>
<line x1="411.7" y1="801.5" x2="423.8" y2="813.5" stroke="#000" stroke-width="1" />
<path d="M423.8,813.5 A17,17 0 0 0 425.0,790.9" fill="none" stroke="#000" stroke-width="1"/>
<line x1="177.5" y1="846" x2="164.1" y2="855.9" stroke="#000" stroke-width="1" />
<path d="M164.1,855.9 A16.7,16.7 0 0 1 166.4,833.5" fill="none" stroke="#000" stroke-width="1"/>
<line x1="367.6" y1="843.3" x2="380.9" y2="855.5" stroke="#000" stroke-width="1" />
<path d="M380.9,855.5 A18,18 0 0 0 380.3,830.6" fill="none" stroke="#000" stroke-width="1"/>
<line x1="256.7" y1="875" x2="256.7" y2="893.4" stroke="#2a2a2a" stroke-width="1" />
<line x1="289.4" y1="875" x2="289.4" y2="893.4" stroke="#2a2a2a" stroke-width="1" />
<path d="M256.7,891.3 A16.3,16.3 0 0 0 273.0,875.0" fill="none" stroke="#000" stroke-width="1"/>
<path d="M289.4,891.3 A16.3,16.3 0 0 1 273.1,875.0" fill="none" stroke="#000" stroke-width="1"/>
<line x1="17.8" y1="675.7" x2="119.4" y2="675.7" stroke="#000" stroke-width="1.5" />
<rect x="22.7" y="679.5" width="97" height="4.5" fill="#000" stroke="none" stroke-width="0" />
<line x1="21.7" y1="676" x2="21.7" y2="833" stroke="#000" stroke-width="1.9" />
<polygon points="18.2,722.1 18.2,729.1 27.7,729.1 27.7,722.1" fill="#a0a0a0" stroke="#000" stroke-width="0.9"/>
<polygon points="22.7,722.1 22.7,729.1 27.7,729.1 27.7,722.1" fill="#000" stroke="none" stroke-width="0"/>
<polygon points="18.2,787.5 18.2,794.5 27.7,794.5 27.7,787.5" fill="#a0a0a0" stroke="#000" stroke-width="0.9"/>
<polygon points="22.7,787.5 22.7,794.5 27.7,794.5 27.7,787.5" fill="#000" stroke="none" stroke-width="0"/>
<polygon points="18.2,748.0 18.2,768.6 27.7,768.6 27.7,748.0" fill="#a0a0a0" stroke="#000" stroke-width="0.9"/>
<polygon points="22.7,748.0 22.7,768.6 27.7,768.6 27.7,748.0" fill="#000" stroke="none" stroke-width="0"/>
<polygon points="18.2,676.0 18.2,704.0 27.7,704.0 27.7,676.0" fill="#a0a0a0" stroke="#000" stroke-width="0.9"/>
<polygon points="22.7,676.0 22.7,704.0 27.7,704.0 27.7,676.0" fill="#000" stroke="none" stroke-width="0"/>
<polygon points="18.2,813.0 18.2,833.0 27.7,833.0 27.7,813.0" fill="#a0a0a0" stroke="#000" stroke-width="0.9"/>
<polygon points="22.7,813.0 22.7,833.0 27.7,833.0 27.7,813.0" fill="#000" stroke="none" stroke-width="0"/>
<line x1="21" y1="829" x2="169" y2="977" stroke="#000" stroke-width="1.9" />
<polygon points="92.1,904.35 97.05,909.3 103.42,902.93 98.47,897.98" fill="#a0a0a0" stroke="#000" stroke-width="0.9"/>
<polygon points="94.93,901.52 99.88,906.47 103.42,902.93 98.47,897.98" fill="#000" stroke="none" stroke-width="0"/>
<polygon points="137.3,949.55 142.25,954.5 148.62,948.13 143.67,943.18" fill="#a0a0a0" stroke="#000" stroke-width="0.9"/>
<polygon points="140.13,946.72 145.08,951.67 148.62,948.13 143.67,943.18" fill="#000" stroke="none" stroke-width="0"/>
<polygon points="65.72,877.96 77.04,889.28 83.4,882.91 72.09,871.6" fill="#a0a0a0" stroke="#000" stroke-width="0.9"/>
<polygon points="68.55,875.14 79.86,886.45 83.4,882.91 72.09,871.6" fill="#000" stroke="none" stroke-width="0"/>
<polygon points="109.62,921.86 120.94,933.18 127.3,926.81 115.99,915.5" fill="#a0a0a0" stroke="#000" stroke-width="0.9"/>
<polygon points="112.45,919.04 123.76,930.35 127.3,926.81 115.99,915.5" fill="#000" stroke="none" stroke-width="0"/>
<polygon points="22.1,834.34 33.42,845.66 39.78,839.29 28.47,827.98" fill="#a0a0a0" stroke="#000" stroke-width="0.9"/>
<polygon points="24.93,831.52 36.24,842.83 39.78,839.29 28.47,827.98" fill="#000" stroke="none" stroke-width="0"/>
<polygon points="152.34,964.58 163.66,975.9 170.02,969.53 158.71,958.22" fill="#a0a0a0" stroke="#000" stroke-width="0.9"/>
<polygon points="155.17,961.76 166.48,973.07 170.02,969.53 158.71,958.22" fill="#000" stroke="none" stroke-width="0"/>
<line x1="101.9" y1="808" x2="51.6" y2="857" stroke="#000" stroke-width="3.5" stroke-linecap="square"/>
<line x1="114.5" y1="794" x2="125.8" y2="808.0" stroke="#000" stroke-width="1" />
<path d="M125.8,808.0 A18,18 0 0 1 103.9,808.6" fill="none" stroke="#000" stroke-width="1"/>
<line x1="120.4" y1="695.3" x2="103.8" y2="695.3" stroke="#000" stroke-width="1" />
<path d="M103.8,695.3 A16.6,16.6 0 0 0 120.4,711.9" fill="none" stroke="#000" stroke-width="1"/>
<line x1="179.2" y1="852" x2="158.6" y2="900.9" stroke="#000" stroke-width="3" stroke-linecap="square"/>
<line x1="158.6" y1="900.9" x2="188.3" y2="915" stroke="#2a2a2a" stroke-width="1" />
<g transform="rotate(25 171.5 913.5)"><rect x="164.5" y="908.5" width="14" height="10" fill="#fff" stroke="#2a2a2a" stroke-width="1"/><line x1="164.5" y1="913.5" x2="178.5" y2="913.5" stroke="#2a2a2a" stroke-width="0.8"/><line x1="171.5" y1="908.5" x2="171.5" y2="918.5" stroke="#2a2a2a" stroke-width="0.8"/></g>
<line x1="205" y1="877.7" x2="169" y2="974.4" stroke="#000" stroke-width="4.5" stroke-linecap="square"/>
<line x1="139.3" y1="893" x2="113.5" y2="919" stroke="#000" stroke-width="3" stroke-linecap="square"/>
<path d="M138.9,893.5 L134.5,908 Q140,918 157,901" fill="none" stroke="#000" stroke-width="1"/>
<line x1="168.6" y1="977.1" x2="380" y2="977.1" stroke="#000" stroke-width="1.4" />
<rect x="211.6" y="971.6" width="7" height="16.4" fill="#000" stroke="none" stroke-width="0" />
<rect x="327.8" y="971.6" width="7" height="16.4" fill="#000" stroke="none" stroke-width="0" />
<rect x="211.6" y="984" width="123" height="4" fill="#000" stroke="none" stroke-width="0" />
<rect x="209.9" y="988" width="127.2" height="5" fill="#8a8a8a" stroke="none" stroke-width="0" />
<rect x="212" y="989.5" width="123" height="2" fill="#ddd" stroke="none" stroke-width="0" />
<line x1="339" y1="874.5" x2="376" y2="967.7" stroke="#000" stroke-width="4.5" stroke-linecap="square"/>
<line x1="397.4" y1="815.8" x2="470" y2="882" stroke="#000" stroke-width="4" stroke-linecap="square"/>
<line x1="524.5" y1="829" x2="376.5" y2="977" stroke="#000" stroke-width="1.9" />
<polygon points="498.78,858.97 493.83,863.92 487.46,857.55 492.41,852.6" fill="#a0a0a0" stroke="#000" stroke-width="0.9"/>
<polygon points="495.95,856.14 491.0,861.09 487.46,857.55 492.41,852.6" fill="#000" stroke="none" stroke-width="0"/>
<polygon points="451.28,906.47 446.33,911.42 439.96,905.05 444.91,900.1" fill="#a0a0a0" stroke="#000" stroke-width="0.9"/>
<polygon points="448.45,903.64 443.5,908.59 439.96,905.05 444.91,900.1" fill="#000" stroke="none" stroke-width="0"/>
<polygon points="406.58,951.17 401.63,956.12 395.26,949.75 400.21,944.8" fill="#a0a0a0" stroke="#000" stroke-width="0.9"/>
<polygon points="403.75,948.34 398.8,953.29 395.26,949.75 400.21,944.8" fill="#000" stroke="none" stroke-width="0"/>
<polygon points="476.96,880.78 465.64,892.1 459.28,885.73 470.59,874.42" fill="#a0a0a0" stroke="#000" stroke-width="0.9"/>
<polygon points="474.13,877.96 462.82,889.27 459.28,885.73 470.59,874.42" fill="#000" stroke="none" stroke-width="0"/>
<polygon points="432.16,925.58 420.84,936.9 414.48,930.53 425.79,919.22" fill="#a0a0a0" stroke="#000" stroke-width="0.9"/>
<polygon points="429.33,922.76 418.02,934.07 414.48,930.53 425.79,919.22" fill="#000" stroke="none" stroke-width="0"/>
<polygon points="523.4,834.34 512.08,845.66 505.72,839.29 517.03,827.98" fill="#a0a0a0" stroke="#000" stroke-width="0.9"/>
<polygon points="520.57,831.52 509.26,842.83 505.72,839.29 517.03,827.98" fill="#000" stroke="none" stroke-width="0"/>
<polygon points="390.23,967.51 380.33,977.41 373.97,971.05 383.87,961.15" fill="#a0a0a0" stroke="#000" stroke-width="0.9"/>
<polygon points="387.4,964.68 377.5,974.58 373.97,971.05 383.87,961.15" fill="#000" stroke="none" stroke-width="0"/>
<line x1="524.4" y1="678" x2="524.4" y2="829" stroke="#000" stroke-width="1.9" />
<polygon points="527.4,721.9 527.4,728.9 518.4,728.9 518.4,721.9" fill="#a0a0a0" stroke="#000" stroke-width="0.9"/>
<polygon points="523.4,721.9 523.4,728.9 518.4,728.9 518.4,721.9" fill="#000" stroke="none" stroke-width="0"/>
<polygon points="527.4,787.2 527.4,794.2 518.4,794.2 518.4,787.2" fill="#a0a0a0" stroke="#000" stroke-width="0.9"/>
<polygon points="523.4,787.2 523.4,794.2 518.4,794.2 518.4,787.2" fill="#000" stroke="none" stroke-width="0"/>
<polygon points="527.4,747.75 527.4,769.25 518.4,769.25 518.4,747.75" fill="#a0a0a0" stroke="#000" stroke-width="0.9"/>
<polygon points="523.4,747.75 523.4,769.25 518.4,769.25 518.4,747.75" fill="#000" stroke="none" stroke-width="0"/>
<polygon points="527.4,812.5 527.4,829.5 518.4,829.5 518.4,812.5" fill="#a0a0a0" stroke="#000" stroke-width="0.9"/>
<polygon points="523.4,812.5 523.4,829.5 518.4,829.5 518.4,812.5" fill="#000" stroke="none" stroke-width="0"/>
</svg>
<div class="hd" style="top:2.5px">Alle Räume <i><u style="text-decoration-skip-ink:none;text-underline-offset:3.7px;text-decoration-thickness:2.6px">beginnend</u></i> mit <b>2</b></div>
<div class="hd" style="top:45px">befinden sich im <b>Obergeschoss</b>.</div>
<div class="lb" style="left:224.9px;top:270px;transform:scaleX(0.972)">Saal</div>
<div class="lb" style="left:578px;top:340px;transform:scaleX(0.885)">21</div>
<div class="lb" style="left:596px;top:470px;transform:scaleX(0.968)">22</div>
<div class="lb" style="left:469.7px;top:599px;transform:scaleX(0.953)">23</div>
<div class="lb" style="left:446px;top:707px;transform:scaleX(0.965)">24</div>
<div class="lb" style="left:442px;top:780px;transform:scaleX(0.973)">25</div>
<div class="lb" style="left:370.4px;top:860px;transform:scaleX(0.97)">26</div>
<div class="lb" style="left:249px;top:918px;transform:scaleX(0.972)">27</div>
<div class="lb" style="left:209px;top:683px;transform:scaleX(0.964)">Foyer</div>
<div class="sm" style="left:34px;top:721px;transform:scaleX(1.035)">Bespre-</div>
<div class="sm" style="left:42px;top:748px;transform:scaleX(1.037)">chung</div>
<div class="sm" style="left:88.5px;top:844.5px;font-size:21.6px;transform:scaleX(1.03)">Büro</div>
<div style="position:absolute;left:433px;top:960px;font-size:35px;color:#000;white-space:nowrap;line-height:1;transform-origin:0 0;transform:scaleX(1.045)">Obergeschoss</div>
</body></html>
